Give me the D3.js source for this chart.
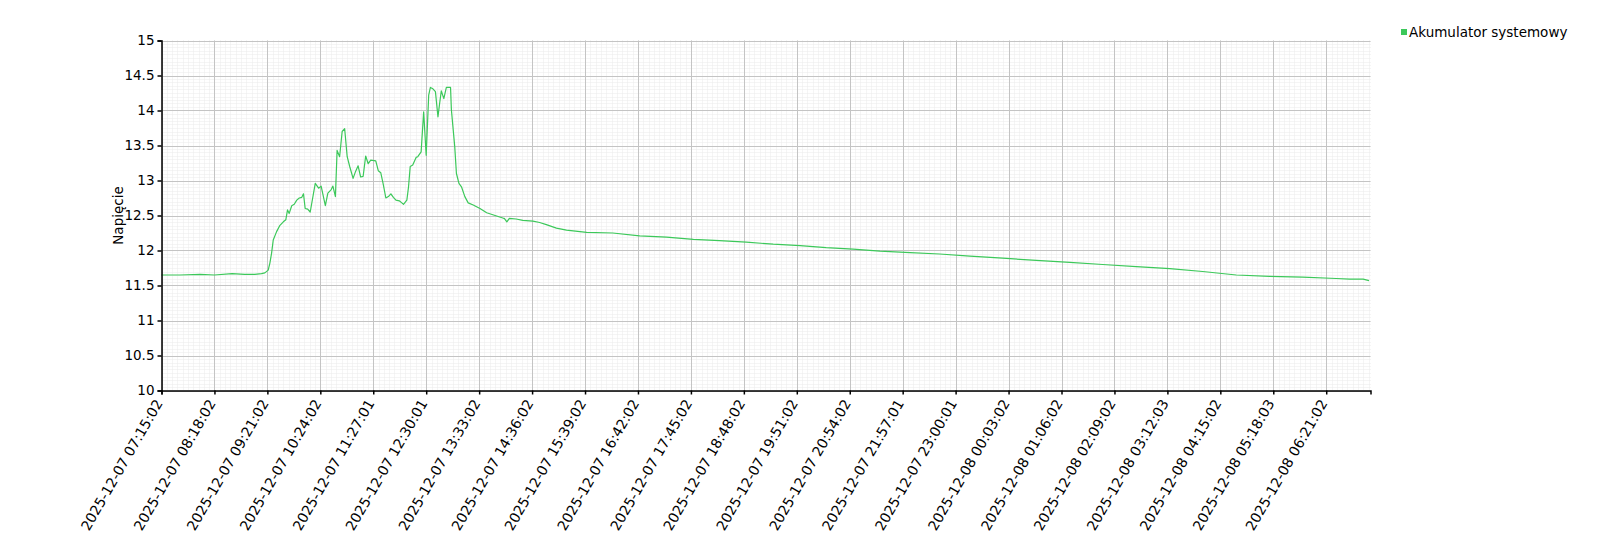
<!DOCTYPE html>
<html>
<head>
<meta charset="utf-8">
<script src="https://cdn.jsdelivr.net/npm/d3@7"></script>
<style>
  html, body { margin: 0; padding: 0; background: #fff; }
  svg { display: block; font-family: "DejaVu Sans", Verdana, sans-serif; }
</style>
</head>
<body>
<svg id="chart" width="1600" height="550"></svg>
<script>
// ---- data ----
const seriesName = "Akumulator systemowy";
const yLabel = "Napięcie";
const yTicks = [10, 10.5, 11, 11.5, 12, 12.5, 13, 13.5, 14, 14.5, 15];
const xTickLabels = [
  "2025-12-07 07:15:02", "2025-12-07 08:18:02", "2025-12-07 09:21:02", "2025-12-07 10:24:02",
  "2025-12-07 11:27:01", "2025-12-07 12:30:01", "2025-12-07 13:33:02", "2025-12-07 14:36:02",
  "2025-12-07 15:39:02", "2025-12-07 16:42:02", "2025-12-07 17:45:02", "2025-12-07 18:48:02",
  "2025-12-07 19:51:02", "2025-12-07 20:54:02", "2025-12-07 21:57:01", "2025-12-07 23:00:01",
  "2025-12-08 00:03:02", "2025-12-08 01:06:02", "2025-12-08 02:09:02", "2025-12-08 03:12:03",
  "2025-12-08 04:15:02", "2025-12-08 05:18:03", "2025-12-08 06:21:02"
];
const domainStart = "2025-12-07 07:15:02";
const domainEnd = "2025-12-08 07:13:44";

const times = [
  "2025-12-07 07:15","2025-12-07 07:37","2025-12-07 08:01","2025-12-07 08:18","2025-12-07 08:39",
  "2025-12-07 08:54","2025-12-07 09:06","2025-12-07 09:14","2025-12-07 09:18","2025-12-07 09:22",
  "2025-12-07 09:24","2025-12-07 09:26","2025-12-07 09:28","2025-12-07 09:32","2025-12-07 09:36",
  "2025-12-07 09:40","2025-12-07 09:43","2025-12-07 09:45","2025-12-07 09:47","2025-12-07 09:50",
  "2025-12-07 09:53","2025-12-07 09:56","2025-12-07 09:59","2025-12-07 10:02","2025-12-07 10:04",
  "2025-12-07 10:06","2025-12-07 10:09","2025-12-07 10:12","2025-12-07 10:18","2025-12-07 10:22",
  "2025-12-07 10:25","2025-12-07 10:30","2025-12-07 10:33","2025-12-07 10:37","2025-12-07 10:39",
  "2025-12-07 10:42","2025-12-07 10:44","2025-12-07 10:47","2025-12-07 10:50","2025-12-07 10:53",
  "2025-12-07 10:56","2025-12-07 10:59","2025-12-07 11:03","2025-12-07 11:06","2025-12-07 11:09",
  "2025-12-07 11:12","2025-12-07 11:15","2025-12-07 11:18","2025-12-07 11:21","2025-12-07 11:24",
  "2025-12-07 11:30","2025-12-07 11:33","2025-12-07 11:36","2025-12-07 11:39","2025-12-07 11:42",
  "2025-12-07 11:45","2025-12-07 11:48","2025-12-07 11:51","2025-12-07 11:54","2025-12-07 11:58",
  "2025-12-07 12:01","2025-12-07 12:03","2025-12-07 12:07","2025-12-07 12:09","2025-12-07 12:11",
  "2025-12-07 12:14","2025-12-07 12:18","2025-12-07 12:20","2025-12-07 12:24","2025-12-07 12:27",
  "2025-12-07 12:30","2025-12-07 12:33","2025-12-07 12:35","2025-12-07 12:38","2025-12-07 12:41",
  "2025-12-07 12:44","2025-12-07 12:46","2025-12-07 12:48","2025-12-07 12:51","2025-12-07 12:54",
  "2025-12-07 12:59","2025-12-07 13:00","2025-12-07 13:04","2025-12-07 13:06","2025-12-07 13:09",
  "2025-12-07 13:12","2025-12-07 13:16","2025-12-07 13:20","2025-12-07 13:26","2025-12-07 13:34",
  "2025-12-07 13:42","2025-12-07 13:52","2025-12-07 14:02","2025-12-07 14:03","2025-12-07 14:06",
  "2025-12-07 14:09","2025-12-07 14:17","2025-12-07 14:25","2025-12-07 14:37","2025-12-07 14:45",
  "2025-12-07 14:53","2025-12-07 15:05","2025-12-07 15:17","2025-12-07 15:41","2025-12-07 16:12",
  "2025-12-07 16:44","2025-12-07 17:16","2025-12-07 17:48","2025-12-07 18:19","2025-12-07 18:51",
  "2025-12-07 19:23","2025-12-07 19:55","2025-12-07 20:26","2025-12-07 20:58","2025-12-07 21:30",
  "2025-12-07 22:06","2025-12-07 22:41","2025-12-07 23:17","2025-12-07 23:56","2025-12-08 00:36",
  "2025-12-08 01:16","2025-12-08 01:55","2025-12-08 02:35","2025-12-08 03:15","2025-12-08 03:54",
  "2025-12-08 04:34","2025-12-08 05:14","2025-12-08 05:53","2025-12-08 06:33","2025-12-08 06:49",
  "2025-12-08 07:05","2025-12-08 07:12"
];
const voltages = [
  11.65,11.65,11.66,11.65,11.67,
  11.66,11.66,11.67,11.68,11.72,
  11.82,11.96,12.15,12.27,12.36,
  12.41,12.44,12.58,12.53,12.64,
  12.66,12.72,12.75,12.76,12.81,
  12.60,12.59,12.55,12.96,12.89,
  12.92,12.64,12.82,12.87,12.92,
  12.77,13.43,13.34,13.70,13.74,
  13.34,13.20,13.03,13.13,13.21,
  13.05,13.06,13.35,13.24,13.29,
  13.28,13.14,13.11,12.94,12.75,
  12.77,12.81,12.76,12.72,12.71,
  12.68,12.66,12.72,12.91,13.20,
  13.22,13.33,13.34,13.41,13.98,
  13.36,14.22,14.33,14.31,14.27,
  13.91,14.10,14.28,14.17,14.33,
  14.33,14.01,13.48,13.10,12.96,
  12.91,12.77,12.68,12.65,12.60,
  12.54,12.50,12.46,12.46,12.41,
  12.46,12.45,12.43,12.42,12.40,
  12.37,12.32,12.29,12.26,12.25,
  12.21,12.19,12.16,12.14,12.12,
  12.09,12.07,12.04,12.02,11.99,
  11.97,11.95,11.92,11.89,11.86,
  11.83,11.80,11.77,11.74,11.70,
  11.65,11.63,11.62,11.60,11.59,
  11.59,11.57
];

// ---- chart ----
(function () {
const svg = d3.select("#chart");
const parseFull = d3.timeParse("%Y-%m-%d %H:%M:%S");
const parseMin = d3.timeParse("%Y-%m-%d %H:%M");
const fmtFull = d3.timeFormat("%Y-%m-%d %H:%M:%S");

const pLeft = 161.5, pRight = 1370.5, pTop = 40.5, pBottom = 390.5;

const x = d3.scaleTime()
  .domain([parseFull(domainStart), parseFull(domainEnd)])
  .range([pLeft, pRight]);
const y = d3.scaleLinear().domain([10, 15]).range([pBottom, pTop]);

const tickDates = xTickLabels.map(parseFull);

// minor grid
const minor = svg.append("g").attr("class", "minor");
const yMinor = d3.range(10, 15.0001, 0.05);
minor.selectAll("line.hy").data(yMinor).join("line")
  .attr("x1", pLeft).attr("x2", pRight)
  .attr("y1", d => Math.round(y(d)) + 0.5).attr("y2", d => Math.round(y(d)) + 0.5)
  .attr("stroke", "#ebebeb").attr("stroke-width", 1).attr("stroke-dasharray", "1,1");
const step = (tickDates[1] - tickDates[0]) / 10;
const xMinor = [];
for (let t = +tickDates[0]; t <= +x.domain()[1]; t += step) xMinor.push(new Date(t));
minor.selectAll("line.vx").data(xMinor).join("line")
  .attr("y1", pTop).attr("y2", pBottom)
  .attr("x1", d => Math.round(x(d)) + 0.5).attr("x2", d => Math.round(x(d)) + 0.5)
  .attr("stroke", "#ebebeb").attr("stroke-width", 1).attr("stroke-dasharray", "1,1");

// major grid
const grid = svg.append("g").attr("class", "grid");
grid.selectAll("line.h").data(yTicks).join("line")
  .attr("x1", pLeft).attr("x2", pRight)
  .attr("y1", d => Math.round(y(d)) + 0.5).attr("y2", d => Math.round(y(d)) + 0.5)
  .attr("stroke", "#c4c4c4").attr("stroke-width", 1);
grid.selectAll("line.v").data(tickDates).join("line")
  .attr("y1", pTop).attr("y2", pBottom)
  .attr("x1", d => Math.round(x(d)) + 0.5).attr("x2", d => Math.round(x(d)) + 0.5)
  .attr("stroke", "#c4c4c4").attr("stroke-width", 1);

// line
const data = times.map((t, i) => ({ t: parseMin(t), v: voltages[i] }));
svg.append("path").datum(data)
  .attr("fill", "none")
  .attr("stroke", "#3cc85a")
  .attr("stroke-width", 1.2)
  .attr("stroke-linejoin", "round")
  .attr("d", d3.line().x(d => x(d.t)).y(d => y(d.v)));

// axes
const yAxis = svg.append("g")
  .attr("transform", `translate(${pLeft},0)`)
  .call(d3.axisLeft(y).tickValues(yTicks).tickFormat(d => String(d)).tickSize(4).tickPadding(3));
const xAxis = svg.append("g")
  .attr("transform", `translate(0,${pBottom})`)
  .call(d3.axisBottom(x).tickValues(tickDates).tickFormat(fmtFull).tickSize(4).tickPadding(3));

[yAxis, xAxis].forEach(a => {
  a.select(".domain").attr("stroke", "#000").attr("stroke-width", 1.5);
  a.selectAll(".tick line").attr("stroke", "#000").attr("stroke-width", 1.5);
  a.selectAll("text").attr("fill", "#000")
    .attr("font-family", "DejaVu Sans, Verdana, sans-serif");
});
yAxis.selectAll("text").attr("font-size", 13.5);
xAxis.selectAll("text").attr("font-size", 14);

xAxis.selectAll(".tick text")
  .attr("text-anchor", "end")
  .attr("dy", "0.35em")
  .attr("transform", "translate(-3,10) rotate(-60)")
  .attr("y", 0).attr("x", 0);

// y label
svg.append("text")
  .attr("transform", `translate(123,${(pTop + pBottom) / 2}) rotate(-90)`)
  .attr("text-anchor", "middle")
  .attr("font-size", 13.5)
  .attr("fill", "#000")
  .text(yLabel);

// legend
const leg = svg.append("g").attr("transform", "translate(1401,29)");
leg.append("rect").attr("width", 6).attr("height", 6).attr("fill", "#3cc85a");
leg.append("text").attr("x", 8).attr("y", 7.5)
  .attr("font-size", 13.5).attr("fill", "#000").text(seriesName);
})();
</script>
</body>
</html>
